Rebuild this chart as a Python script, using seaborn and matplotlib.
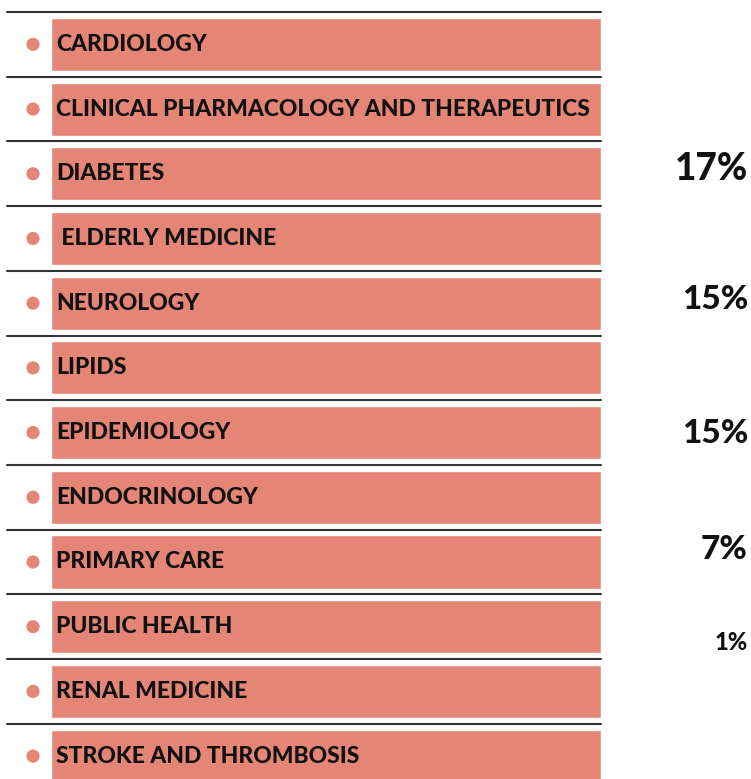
import matplotlib
matplotlib.use("Agg")
import matplotlib.pyplot as plt
import matplotlib.transforms as mtransforms
import pandas as pd
import seaborn as sns

# --- dados ---
categorias = [
    "CARDIOLOGY",
    "CLINICAL PHARMACOLOGY AND THERAPEUTICS",
    "DIABETES",
    " ELDERLY MEDICINE",
    "NEUROLOGY",
    "LIPIDS",
    "EPIDEMIOLOGY",
    "ENDOCRINOLOGY",
    "PRIMARY CARE",
    "PUBLIC HEALTH",
    "RENAL MEDICINE",
    "STROKE AND THROMBOSIS",
]
valores = [1] * len(categorias)

pct_categorias = ["DIABETES", "NEUROLOGY", "EPIDEMIOLOGY", "PRIMARY CARE", "PUBLIC HEALTH"]
pct_valores = [17, 15, 15, 7, 1]

# ajustes de posicao/tamanho dos percentuais
pct_deslocamento = [-0.07, -0.06, 0.02, -0.19, 0.25]
pct_fontes = [26.5, 24, 24, 24, 17]

COR = "#E58575"

df = pd.DataFrame({"categoria": categorias, "valor": valores})

sns.set_style("white")
plt.rcParams["font.family"] = ["Lato", "DejaVu Sans"]

fig = plt.figure(figsize=(7.51, 7.79), dpi=100)
ax = fig.add_axes([7 / 751, 0, (601 - 7) / 751, (779 - 12) / 779])

sns.barplot(data=df, x="valor", y="categoria", orient="h", color=COR,
            width=0.82, saturation=1, ax=ax)

ax.set_xlim(-0.08, 1)
ax.set_ylim(11.354, -0.5)

for i, nome in enumerate(categorias):
    ax.axhline(i - 0.5, color="#333333", lw=1.5, clip_on=False, zorder=3)
    ax.text(0.010, i, nome, va="center", ha="left", fontsize=16.5,
            fontweight="black", color="#111111")
ax.scatter([-0.0327] * len(categorias), range(len(categorias)), s=90,
           color=COR, edgecolor="none", clip_on=False)

trans = mtransforms.blended_transform_factory(fig.transFigure, ax.transData)
for nome, v, d, fs in zip(pct_categorias, pct_valores, pct_deslocamento, pct_fontes):
    i = categorias.index(nome)
    ax.text(748 / 751, i + d, f"{v}%", transform=trans, ha="right", va="center",
            fontsize=fs, fontweight="black", color="#111111", clip_on=False)

ax.set_axis_off()

fig.savefig("out.png", dpi=100)
